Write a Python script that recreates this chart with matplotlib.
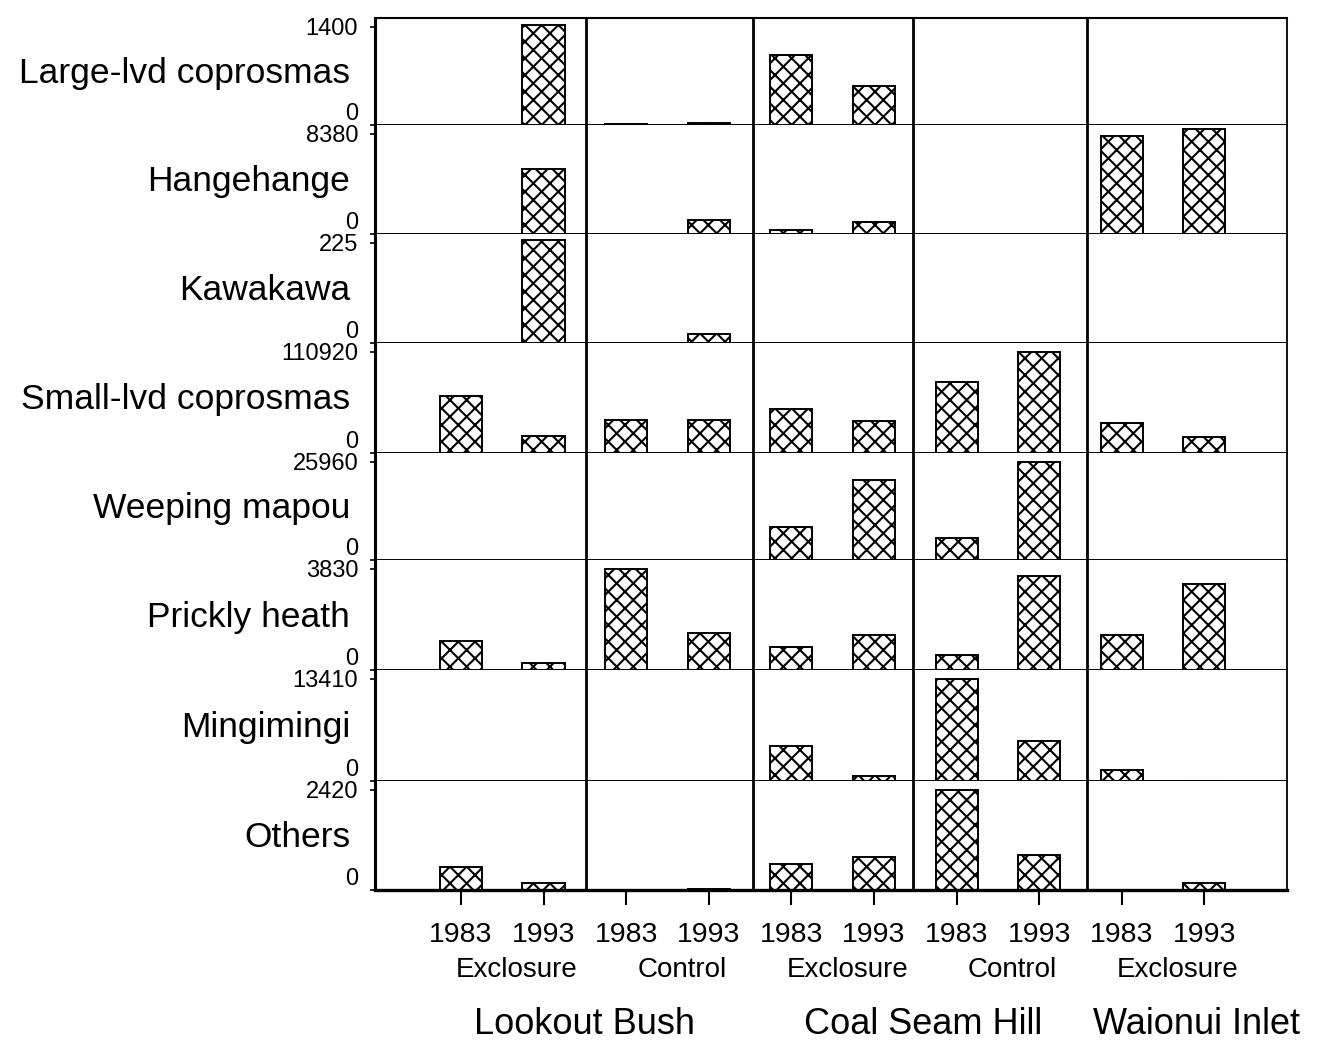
import matplotlib
matplotlib.use('Agg')
import matplotlib.pyplot as plt
from matplotlib.transforms import blended_transform_factory

plt.rcParams['font.family'] = ['Liberation Sans', 'DejaVu Sans']
plt.rcParams['hatch.linewidth'] = 1.5

species = ['Large-lvd coprosmas', 'Hangehange', 'Kawakawa', 'Small-lvd coprosmas',
           'Weeping mapou', 'Prickly heath', 'Mingimingi', 'Others']
row_max = [1400, 8380, 225, 110920, 25960, 3830, 13410, 2420]

years = ['1983', '1993'] * 5
treatments = ['Exclosure', 'Control', 'Exclosure', 'Control', 'Exclosure']
sites = ['Lookout Bush', 'Coal Seam Hill', 'Waionui Inlet']

# order: LB excl 83/93, LB ctrl 83/93, CSH excl 83/93, CSH ctrl 83/93, WI excl 83/93
large_lvd = [0, 1420, 15, 25, 990, 555, 0, 0, 0, 0]
hangehange = [0, 5430, 0, 1150, 300, 1000, 0, 0, 8150, 8800]
kawakawa = [0, 230, 0, 21, 0, 0, 0, 0, 0, 0]
small_lvd = [63000, 18500, 35900, 35900, 47800, 34800, 78300, 110900, 33000, 17000]
weeping_mapou = [0, 0, 0, 0, 8650, 20980, 5770, 25960, 0, 0]
prickly_heath = [1094, 274, 3830, 1407, 860, 1330, 586, 3556, 1330, 3240]
mingimingi = [0, 0, 0, 0, 4600, 680, 13410, 5280, 1490, 60]
others = [543, 173, 0, 20, 617, 790, 2420, 840, 0, 173]
rows = [large_lvd, hangehange, kawakawa, small_lvd, weeping_mapou,
        prickly_heath, mingimingi, others]

W, H = 1318, 1041
fig = plt.figure(figsize=(W / 100, H / 100), dpi=100)

left, right = 375, 1287
edges = [18, 125, 234, 343, 453, 560, 670, 781, 890]
x = list(range(10))
axes = []
for i, vals in enumerate(rows):
    top, bot = edges[i], edges[i + 1]
    ax = fig.add_axes([left / W, 1 - bot / H, (right - left) / W, (bot - top) / H])
    xs = [k for k, v in zip(x, vals) if v > 0]
    hs = [v for v in vals if v > 0]
    ax.bar(xs, hs, width=0.51, facecolor='white', edgecolor='black',
           linewidth=1.4, hatch='xx', zorder=2)
    ax.set_xlim(-1.04, 10.0)
    ax.set_ylim(0, row_max[i] / 0.92)
    for sx in [1.52, 3.53, 5.47, 7.58]:
        ax.axvline(sx, color='black', lw=2.0, zorder=3)
    ax.set_yticks([0, row_max[i]])
    ax.set_yticklabels(['0', str(row_max[i])])
    ax.get_yticklabels()[0].set_va('bottom')
    ax.tick_params(axis='y', direction='out', length=3.6, width=1.2,
                   labelsize=17, pad=8.5)
    ax.spines['left'].set_linewidth(2.2)
    ax.spines['right'].set_linewidth(1.3)
    ax.spines['bottom'].set_linewidth(1.4)
    ax.spines['top'].set_visible(i == 0)
    ax.spines['top'].set_linewidth(1.5)
    fig.text(350 / W, 1 - ((top + bot) / 2 + 2) / H, species[i],
             ha='right', va='center', fontsize=25.5)
    if i < len(rows) - 1:
        ax.set_xticks([])
    axes.append(ax)

bax = axes[-1]
bax.spines['bottom'].set_linewidth(2.4)
bax.set_xticks(x)
bax.set_xticklabels(years)
bax.tick_params(axis='x', direction='out', length=11, width=1.5,
                labelsize=20.5, pad=12)

tr = blended_transform_factory(bax.transData, fig.transFigure)
for j, t in enumerate(treatments):
    fig.text(2 * j + 0.5 + 0.18, 1 - 970 / H, t, transform=tr,
             ha='center', va='center', fontsize=20)
for sx, s in zip([1.49, 5.59, 8.91], sites):
    fig.text(sx, 1 - 1025 / H, s, transform=tr,
             ha='center', va='center', fontsize=26)

fig.savefig('out.png', dpi=100)
